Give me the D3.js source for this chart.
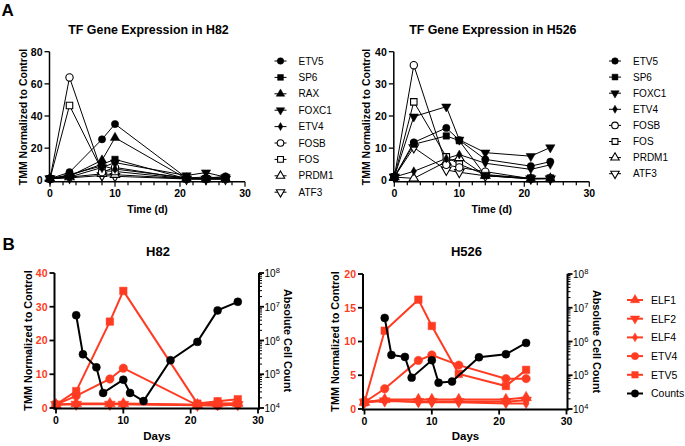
<!DOCTYPE html>
<html><head><meta charset="utf-8">
<script src="https://cdn.jsdelivr.net/npm/d3@7"></script>
<style>body{margin:0;background:#fff} text{font-family:"Liberation Sans",Arial,Helvetica,sans-serif}</style>
</head><body><svg id="c" width="685" height="446"></svg>
<script>
// ---------- DATA ----------
const h82Days = [0, 3, 8, 10, 21, 24, 27];
const h82TF_ETV5  = [1, 5, 25.5, 35, 1.5, 1.2, 2.5];
const h82TF_SP6   = [1, 3, 10, 13, 1, 1, 1.2];
const h82TF_RAX   = [1, 2.5, 12.5, 26.5, 1, 1, 1];
const h82TF_FOXC1 = [1, 2, 8, 11, 3, 4.8, 2];
const h82TF_ETV4  = [1, 3.5, 9, 7, 1.5, 2, 1.5];
const h82TF_FOSB  = [1, 64, 5, 8, 1, 1, 1];
const h82TF_FOS   = [1, 46.5, 6, 5.5, 1, 1, 1];
const h82TF_PRDM1 = [1, 2, 4, 3.5, 1, 0.8, 0.8];
const h82TF_ATF3  = [1, 1.5, 3, 2.5, 0.8, 0.8, 0.8];
const h82TFTicks = [0, 20, 40, 60, 80];

const h526Days = [0, 3, 8, 10, 14, 21, 24];
const h526TF_ETV5  = [1, 11.8, 16.3, 12.5, 6.5, 4.4, 5.8];
const h526TF_SP6   = [1, 11.2, 13.8, 12.3, 1.5, 0.6, 0.6];
const h526TF_FOXC1 = [1, 19.8, 22.9, 12.6, 8.6, 7.5, 10.2];
const h526TF_ETV4  = [1, 2.8, 6.8, 8, 5.3, 3.4, 4.8];
const h526TF_FOSB  = [1, 35.8, 4.8, 4, 2.7, 0.5, 0.6];
const h526TF_FOS   = [1, 24.4, 7.3, 5, 1.8, 0.6, 0.6];
const h526TF_PRDM1 = [1, 0.6, 5.8, 7, 1.5, 0.4, 0.5];
const h526TF_ATF3  = [1, 10.2, 3.2, 2.5, 1.4, 0.5, 0.5];
const h526TFTicks = [0, 10, 20, 30, 40];

const xTicks = [0, 10, 20, 30];

const h82B_ELF1 = [1, 1.3, 1.3, 1.3, 1, 1.3, 1.4];
const h82B_ELF2 = [1, 1.1, 1.1, 1.1, 0.8, 1, 1];
const h82B_ELF4 = [1, 1.2, 1.2, 1.2, 0.9, 1.1, 1.2];
const h82B_ETV4 = [1, 3.6, 8.6, 11.8, 0.8, 0.7, 1];
const h82B_ETV5 = [1, 5, 25.6, 34.7, 1.3, 2, 2.6];
const h82CountDays = [3, 4, 6, 7, 10, 11, 13, 17, 21, 24, 27];
const h82Counts = [5.6e6, 3.9e5, 1.6e5, 2.8e4, 6.9e4, 2.8e4, 1.6e4, 2.6e5, 9.1e5, 7.8e6, 1.4e7];
const h82BTicks = [0, 10, 20, 30, 40];

const h526B_ELF1 = [1, 1.4, 1.4, 1.4, 1.4, 1.4, 1.7];
const h526B_ELF2 = [1, 1.2, 1.1, 1.1, 1.1, 1.1, 1.3];
const h526B_ELF4 = [1, 1.3, 1.0, 1.0, 1.0, 0.8, 0.8];
const h526B_ETV4 = [1, 3, 7.2, 8, 6.5, 4.5, 4.5];
const h526B_ETV5 = [1, 11.6, 16.2, 12.3, 5.2, 3.4, 5.8];
const h526CountDays = [3, 4, 6, 7, 10, 11, 13, 17, 21, 24];
const h526Counts = [5e6, 4e5, 3.5e5, 8.5e4, 2.8e5, 6e4, 6.5e4, 3.4e5, 4.2e5, 9.1e5];
const h526BTicks = [0, 5, 10, 15, 20];

const logTicks = [1e4, 1e5, 1e6, 1e7, 1e8];

// ---------- DRAW ----------
const RED = "#ff3b22";
const svg = d3.select("#c");

function marker(g, shape, x, y, size, color, open) {
  let type = d3.symbolCircle, rot = 0;
  if (shape === "square") type = d3.symbolSquare;
  else if (shape === "triangle") type = d3.symbolTriangle;
  else if (shape === "triangleDown") { type = d3.symbolTriangle; rot = 180; }
  else if (shape === "diamond") type = d3.symbolDiamond;
  g.append("path")
    .attr("d", d3.symbol().type(type).size(size)())
    .attr("transform", `translate(${x},${y}) rotate(${rot})`)
    .attr("fill", open ? "#fff" : color)
    .attr("stroke", color)
    .attr("stroke-width", open ? 1.1 : 0.5);
}
function sizeOf(shape, base) {
  if (shape === "diamond") return base * 0.55;
  if (shape === "triangle" || shape === "triangleDown") return base * 0.9;
  return base;
}

function topPanel(o) {
  const g = svg.append("g");
  const x = d3.scaleLinear().domain([0, 30]).range([o.x0, o.x1]);
  const y = d3.scaleLinear().domain([0, o.yMax]).range([o.yb, o.yt]);
  const ax = o.x0 - 0.5, ay = o.yb + 1.5;
  // lines
  o.series.forEach(s => {
    g.append("path").datum(s.v)
      .attr("d", d3.line().x((d, i) => x(o.days[i])).y(d => y(d)))
      .attr("fill", "none").attr("stroke", "#000").attr("stroke-width", 1);
  });
  // markers (reverse so filled on top)
  o.series.slice().reverse().forEach(s => {
    s.v.forEach((d, i) => marker(g, s.shape, x(o.days[i]), y(d), sizeOf(s.shape, 42), "#000", s.open));
  });
  // axes
  g.append("line").attr("x1", ax).attr("x2", ax).attr("y1", y(o.yMax)).attr("y2", ay)
    .attr("stroke", "#000").attr("stroke-width", 1.5);
  g.append("line").attr("x1", ax).attr("x2", x(30)).attr("y1", ay).attr("y2", ay)
    .attr("stroke", "#000").attr("stroke-width", 1.5);
  o.yTicks.forEach(t => {
    g.append("line").attr("x1", ax - 5).attr("x2", ax).attr("y1", y(t)).attr("y2", y(t))
      .attr("stroke", "#000").attr("stroke-width", 1.3);
    g.append("text").attr("x", ax - 7).attr("y", y(t) + 3.8).attr("text-anchor", "end")
      .attr("font-size", 10.5).attr("font-weight", "bold").text(t);
  });
  d3.range(0, 31, 2).forEach(t => {
    const maj = xTicks.includes(t);
    g.append("line").attr("x1", x(t)).attr("x2", x(t)).attr("y1", ay).attr("y2", ay + (maj ? 5 : 3.5))
      .attr("stroke", "#000").attr("stroke-width", 1.2);
  });
  xTicks.forEach(t => {
    g.append("text").attr("x", x(t)).attr("y", ay + 15).attr("text-anchor", "middle")
      .attr("font-size", 10.5).attr("font-weight", "bold").text(t);
  });
  const cx = (o.x0 + o.x1) / 2;
  g.append("text").attr("x", cx + 1).attr("y", 34).attr("text-anchor", "middle")
    .attr("font-size", 12.4).attr("font-weight", "bold").text(o.title);
  g.append("text").attr("x", cx).attr("y", 213).attr("text-anchor", "middle")
    .attr("font-size", 10.5).attr("font-weight", "bold").text("Time (d)");
  g.append("text").attr("transform", `translate(${o.ylx},${(o.yt + o.yb) / 2 + 1}) rotate(-90)`)
    .attr("text-anchor", "middle").attr("font-size", 10.5).attr("font-weight", "bold")
    .text("TMM Normalized to Control");
  // legend
  o.series.forEach((s, i) => {
    const ly = o.ly0 + i * o.ldy;
    g.append("line").attr("x1", o.lx - 6).attr("x2", o.lx + 6).attr("y1", ly).attr("y2", ly)
      .attr("stroke", "#000").attr("stroke-width", 1);
    marker(g, s.shape, o.lx, ly, sizeOf(s.shape, 34), "#000", s.open);
    g.append("text").attr("x", o.lx + 18).attr("y", ly + 3.6).attr("font-size", 10).text(s.name);
  });
}

topPanel({
  x0: 50, x1: 245, yt: 51.7, yb: 180.3, yMax: 80, yTicks: h82TFTicks, days: h82Days,
  title: "TF Gene Expression in H82", ylx: 27, lx: 280.5, ly0: 61, ldy: 16.4,
  series: [
    {name: "ETV5", v: h82TF_ETV5, shape: "circle"},
    {name: "SP6", v: h82TF_SP6, shape: "square"},
    {name: "RAX", v: h82TF_RAX, shape: "triangle"},
    {name: "FOXC1", v: h82TF_FOXC1, shape: "triangleDown"},
    {name: "ETV4", v: h82TF_ETV4, shape: "diamond"},
    {name: "FOSB", v: h82TF_FOSB, shape: "circle", open: true},
    {name: "FOS", v: h82TF_FOS, shape: "square", open: true},
    {name: "PRDM1", v: h82TF_PRDM1, shape: "triangle", open: true},
    {name: "ATF3", v: h82TF_ATF3, shape: "triangleDown", open: true}
  ]
});
topPanel({
  x0: 394.3, x1: 589.3, yt: 51.7, yb: 180.3, yMax: 40, yTicks: h526TFTicks, days: h526Days,
  title: "TF Gene Expression in H526", ylx: 370, lx: 615, ly0: 61, ldy: 16.1,
  series: [
    {name: "ETV5", v: h526TF_ETV5, shape: "circle"},
    {name: "SP6", v: h526TF_SP6, shape: "square"},
    {name: "FOXC1", v: h526TF_FOXC1, shape: "triangleDown"},
    {name: "ETV4", v: h526TF_ETV4, shape: "diamond"},
    {name: "FOSB", v: h526TF_FOSB, shape: "circle", open: true},
    {name: "FOS", v: h526TF_FOS, shape: "square", open: true},
    {name: "PRDM1", v: h526TF_PRDM1, shape: "triangle", open: true},
    {name: "ATF3", v: h526TF_ATF3, shape: "triangleDown", open: true}
  ]
});

function botPanel(o) {
  const g = svg.append("g");
  const x = d3.scaleLinear().domain([0, 30]).range([o.x0, o.x1]);
  const y = d3.scaleLinear().domain([0, o.yMax]).range([o.yb, o.yt]);
  const yl = d3.scaleLog().domain([1e4, 1e8]).range([o.yb, o.yt]);
  const ax = o.x0 - 1.5, ay = o.yb + 0.5;
  o.series.forEach(s => {
    g.append("path").datum(s.v)
      .attr("d", d3.line().x((d, i) => x(o.days[i])).y(d => y(d)))
      .attr("fill", "none").attr("stroke", RED).attr("stroke-width", 2);
  });
  o.series.forEach(s => {
    s.v.forEach((d, i) => marker(g, s.shape, x(o.days[i]), y(d), sizeOf(s.shape, 56), RED, false));
  });
  g.append("path").datum(o.counts)
    .attr("d", d3.line().x((d, i) => x(o.cdays[i])).y(d => yl(d)))
    .attr("fill", "none").attr("stroke", "#000").attr("stroke-width", 2);
  o.counts.forEach((d, i) => marker(g, "circle", x(o.cdays[i]), yl(d), 50, "#000", false));
  // axes
  const rx = x(30) + 1;
  g.append("line").attr("x1", ax).attr("x2", ax).attr("y1", o.yt).attr("y2", ay + 1)
    .attr("stroke", "#000").attr("stroke-width", 2);
  g.append("line").attr("x1", rx).attr("x2", rx).attr("y1", o.yt).attr("y2", ay + 1)
    .attr("stroke", "#000").attr("stroke-width", 2);
  g.append("line").attr("x1", ax - 1).attr("x2", rx + 1).attr("y1", ay).attr("y2", ay)
    .attr("stroke", "#000").attr("stroke-width", 2);
  o.yTicks.forEach(t => {
    g.append("line").attr("x1", ax - 5).attr("x2", ax).attr("y1", y(t)).attr("y2", y(t))
      .attr("stroke", "#000").attr("stroke-width", 1.8);
    g.append("text").attr("x", ax - 7).attr("y", y(t) + 3.8).attr("text-anchor", "end")
      .attr("fill", RED).attr("font-size", 10.5).attr("font-weight", "bold").text(t);
  });
  xTicks.forEach(t => {
    g.append("line").attr("x1", x(t)).attr("x2", x(t)).attr("y1", ay).attr("y2", ay + 5)
      .attr("stroke", "#000").attr("stroke-width", 1.8);
    g.append("text").attr("x", x(t)).attr("y", ay + 15).attr("text-anchor", "middle")
      .attr("font-size", 10.5).attr("font-weight", "bold").text(t);
  });
  // log minor ticks
  [1e4, 1e5, 1e6, 1e7].forEach(dec => {
    d3.range(2, 10).forEach(m => {
      const v = dec * m;
      g.append("line").attr("x1", rx).attr("x2", rx + 3).attr("y1", yl(v)).attr("y2", yl(v))
        .attr("stroke", "#000").attr("stroke-width", 1);
    });
  });
  logTicks.forEach(t => {
    g.append("line").attr("x1", rx).attr("x2", rx + 5).attr("y1", yl(t)).attr("y2", yl(t))
      .attr("stroke", "#000").attr("stroke-width", 1.8);
    const tx = g.append("text").attr("x", rx + 5.5).attr("y", yl(t) + 4).attr("font-size", 10);
    tx.append("tspan").text("10");
    tx.append("tspan").attr("dy", -4).attr("font-size", 7.5).text(Math.round(Math.log10(t)));
  });
  const cx = (o.x0 + o.x1) / 2;
  g.append("text").attr("x", cx + 1).attr("y", 256).attr("text-anchor", "middle")
    .attr("font-size", 13).attr("font-weight", "bold").text(o.title);
  g.append("text").attr("x", cx).attr("y", 440).attr("text-anchor", "middle")
    .attr("font-size", 11.5).attr("font-weight", "bold").text("Days");
  g.append("text").attr("transform", `translate(${o.ylx},${(o.yt + o.yb) / 2}) rotate(-90)`)
    .attr("text-anchor", "middle").attr("font-size", 10.8).attr("font-weight", "bold")
    .text("TMM Normalized to Control");
  g.append("text").attr("transform", `translate(${o.yrx},${(o.yt + o.yb) / 2}) rotate(90)`)
    .attr("text-anchor", "middle").attr("font-size", 10.8).attr("font-weight", "bold")
    .text("Absolute Cell Count");
}

const bSeries = (e1, e2, e4, t4, t5) => [
  {name: "ELF1", v: e1, shape: "triangle"},
  {name: "ELF2", v: e2, shape: "triangleDown"},
  {name: "ELF4", v: e4, shape: "diamond"},
  {name: "ETV4", v: t4, shape: "circle"},
  {name: "ETV5", v: t5, shape: "square"}
];

botPanel({
  x0: 56, x1: 258, yt: 273, yb: 408, yMax: 40, yTicks: h82BTicks, days: h82Days,
  series: bSeries(h82B_ELF1, h82B_ELF2, h82B_ELF4, h82B_ETV4, h82B_ETV5),
  cdays: h82CountDays, counts: h82Counts, title: "H82", ylx: 32, yrx: 284
});
botPanel({
  x0: 364.5, x1: 566.5, yt: 274, yb: 409, yMax: 20, yTicks: h526BTicks, days: h526Days,
  series: bSeries(h526B_ELF1, h526B_ELF2, h526B_ELF4, h526B_ETV4, h526B_ETV5),
  cdays: h526CountDays, counts: h526Counts, title: "H526", ylx: 339, yrx: 593
});

// bottom legend
const legB = svg.append("g");
const legItems = [
  {name: "ELF1", shape: "triangle", c: RED},
  {name: "ELF2", shape: "triangleDown", c: RED},
  {name: "ELF4", shape: "diamond", c: RED},
  {name: "ETV4", shape: "circle", c: RED},
  {name: "ETV5", shape: "square", c: RED},
  {name: "Counts", shape: "circle", c: "#000"}
];
legItems.forEach((d, i) => {
  const ly = 300 + i * 18.7, lx = 635;
  legB.append("line").attr("x1", lx - 8).attr("x2", lx + 8).attr("y1", ly).attr("y2", ly)
    .attr("stroke", d.c).attr("stroke-width", 2);
  marker(legB, d.shape, lx, ly, sizeOf(d.shape, 42), d.c, false);
  legB.append("text").attr("x", 651).attr("y", ly + 3.8).attr("font-size", 10.5).text(d.name);
});

// panel letters
svg.append("text").attr("x", 1.5).attr("y", 15.5).attr("font-size", 17).attr("font-weight", "bold").text("A");
svg.append("text").attr("x", 2.5).attr("y", 250).attr("font-size", 17).attr("font-weight", "bold").text("B");
</script></body></html>
